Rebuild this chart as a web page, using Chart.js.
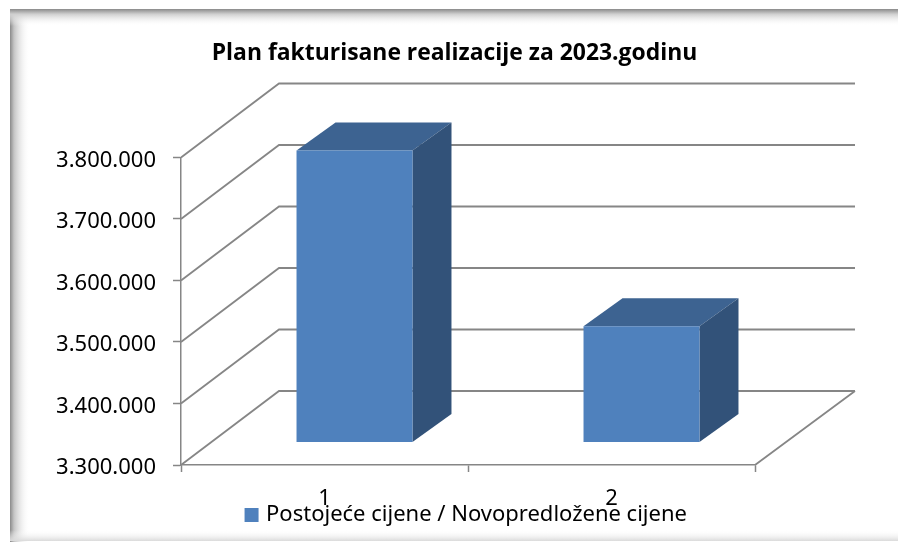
<!DOCTYPE html>
<html><head><meta charset="utf-8">
<style>html,body{margin:0;padding:0;background:#fff}canvas{display:block}</style>
<script src="https://cdn.jsdelivr.net/npm/chart.js@4/dist/chart.umd.min.js"></script>
</head><body>
<div style="width:898px;height:544px"><canvas id="c" width="898" height="544"></canvas></div>
<script>
const titleText = 'Plan fakturisane realizacije za 2023.godinu';
const seriesName = 'Postojeće cijene / Novopredložene cijene';
const categories = ['1', '2'];
const values = [3774000, 3488000];

const GRID = '#868686';
const FONT = '"Noto Sans"';
const wall = {dxLeft: 98, dxRight: 100, dy: 74};
const barOff = {dx: 30, dy: 23};
const barDepth = {dx: 39, dy: 28};

function fmt(v){ return String(Math.round(v)).replace(/\B(?=(\d{3})+$)/g, '.'); }

const frame = {
  id: 'frame',
  beforeDraw(chart){
    const c = chart.ctx, W = chart.width, H = chart.height;
    c.save();
    c.fillStyle = '#fff'; c.fillRect(0,0,W,H);
    let g = c.createLinearGradient(10,0,30,0);
    g.addColorStop(0,'#8a8a8a'); g.addColorStop(.2,'#c4c4c4'); g.addColorStop(1,'rgba(255,255,255,0)');
    c.fillStyle = g; c.fillRect(10,9,20,533);
    g = c.createLinearGradient(0,9,0,26);
    g.addColorStop(0,'#8a8a8a'); g.addColorStop(.3,'#cfcfcf'); g.addColorStop(1,'rgba(255,255,255,0)');
    c.fillStyle = g; c.fillRect(10,9,W-10,17);
    g = c.createLinearGradient(0,541,0,530);
    g.addColorStop(0,'#dadada'); g.addColorStop(1,'rgba(255,255,255,0)');
    c.fillStyle = g; c.fillRect(10,530,W-10,11);
    c.restore();
  }
};

const depth3d = {
  id: 'depth3d',
  afterLayout(chart){
    const t = chart.titleBlock, l = chart.legend;
    t.left += 72; t.right += 72;
    l.left += 85; l.right += 85;
    l.top -= 8; l.bottom -= 8;
  },
  beforeDatasetsDraw(chart){
    const c = chart.ctx, xs = chart.scales.x, ys = chart.scales.y;
    c.save();
    c.strokeStyle = GRID; c.lineWidth = 1.8;
    c.beginPath();
    ys.ticks.forEach(t => {
      const y = ys.getPixelForValue(t.value);
      c.moveTo(xs.left, y);
      c.lineTo(xs.left + wall.dxLeft, y - wall.dy);
      c.lineTo(xs.right + wall.dxRight, y - wall.dy);
    });
    const y0 = ys.getPixelForValue(ys.min);
    c.moveTo(xs.right, y0);
    c.lineTo(xs.right + wall.dxRight, y0 - wall.dy);
    c.stroke();
    c.restore();
  },
  beforeDatasetDraw(chart){
    const c = chart.ctx, ys = chart.scales.y;
    c.save();
    c.translate(barOff.dx, -barOff.dy);
    chart.getDatasetMeta(0).data.forEach(b => {
      const w = b.width/2, l = b.x - w, r = b.x + w, top = b.y, base = ys.getPixelForValue(ys.min);
      c.fillStyle = '#3D6391';
      c.beginPath();
      c.moveTo(l, top); c.lineTo(l+barDepth.dx, top-barDepth.dy);
      c.lineTo(r+barDepth.dx, top-barDepth.dy); c.lineTo(r, top); c.closePath(); c.fill();
      c.fillStyle = '#325279';
      c.beginPath();
      c.moveTo(r, top); c.lineTo(r+barDepth.dx, top-barDepth.dy);
      c.lineTo(r+barDepth.dx, base-barDepth.dy); c.lineTo(r, base); c.closePath(); c.fill();
    });
  },
  afterDatasetDraw(chart){ chart.ctx.restore(); }
};

new Chart(document.getElementById('c'), {
  type: 'bar',
  data: { labels: categories, datasets: [{ label: seriesName, data: values, backgroundColor: '#4F81BD', borderWidth: 0, categoryPercentage: 1, barPercentage: 0.404 }] },
  plugins: [frame, depth3d],
  options: {
    responsive: false, animation: false,
    layout: { padding: { left: 10, right: 143, top: 0, bottom: 0 } },
    plugins: {
      title: { display: true, text: titleText, color: '#000', font: { family: '"Open Sans"', size: 22.9, weight: 'bold' }, padding: { top: 40, bottom: 90 } },
      legend: { display: true, position: 'bottom', labels: {
        color: '#000', font: { family: FONT, size: 22 }, boxWidth: 7, boxHeight: 7, padding: 6,
        generateLabels(chart){
          const items = Chart.defaults.plugins.legend.labels.generateLabels(chart);
          items.forEach(i => { i.lineWidth = 7; i.strokeStyle = i.fillStyle; });
          return items;
        }
      } },
      tooltip: { enabled: false }
    },
    scales: {
      x: {
        offset: true,
        border: { color: GRID, width: 1.5 },
        grid: { drawOnChartArea: false, drawTicks: true, tickLength: 7, tickColor: GRID, tickWidth: 1.5, offset: true },
        ticks: { color: '#000', font: { family: FONT, size: 22 }, padding: 14, maxRotation: 0 },
        afterFit(s){ s.height = 41; }
      },
      y: {
        min: 3300000, max: 3800000,
        border: { color: GRID, width: 1.5 },
        grid: { drawOnChartArea: false, tickLength: 8, tickColor: GRID, tickWidth: 1.5 },
        ticks: { stepSize: 100000, color: '#000', font: { family: FONT, size: 22 }, padding: 17, labelOffset: 3, callback: v => fmt(v) },
        afterFit(s){ s.width = 171; }
      }
    }
  }
});
</script>
</body></html>
